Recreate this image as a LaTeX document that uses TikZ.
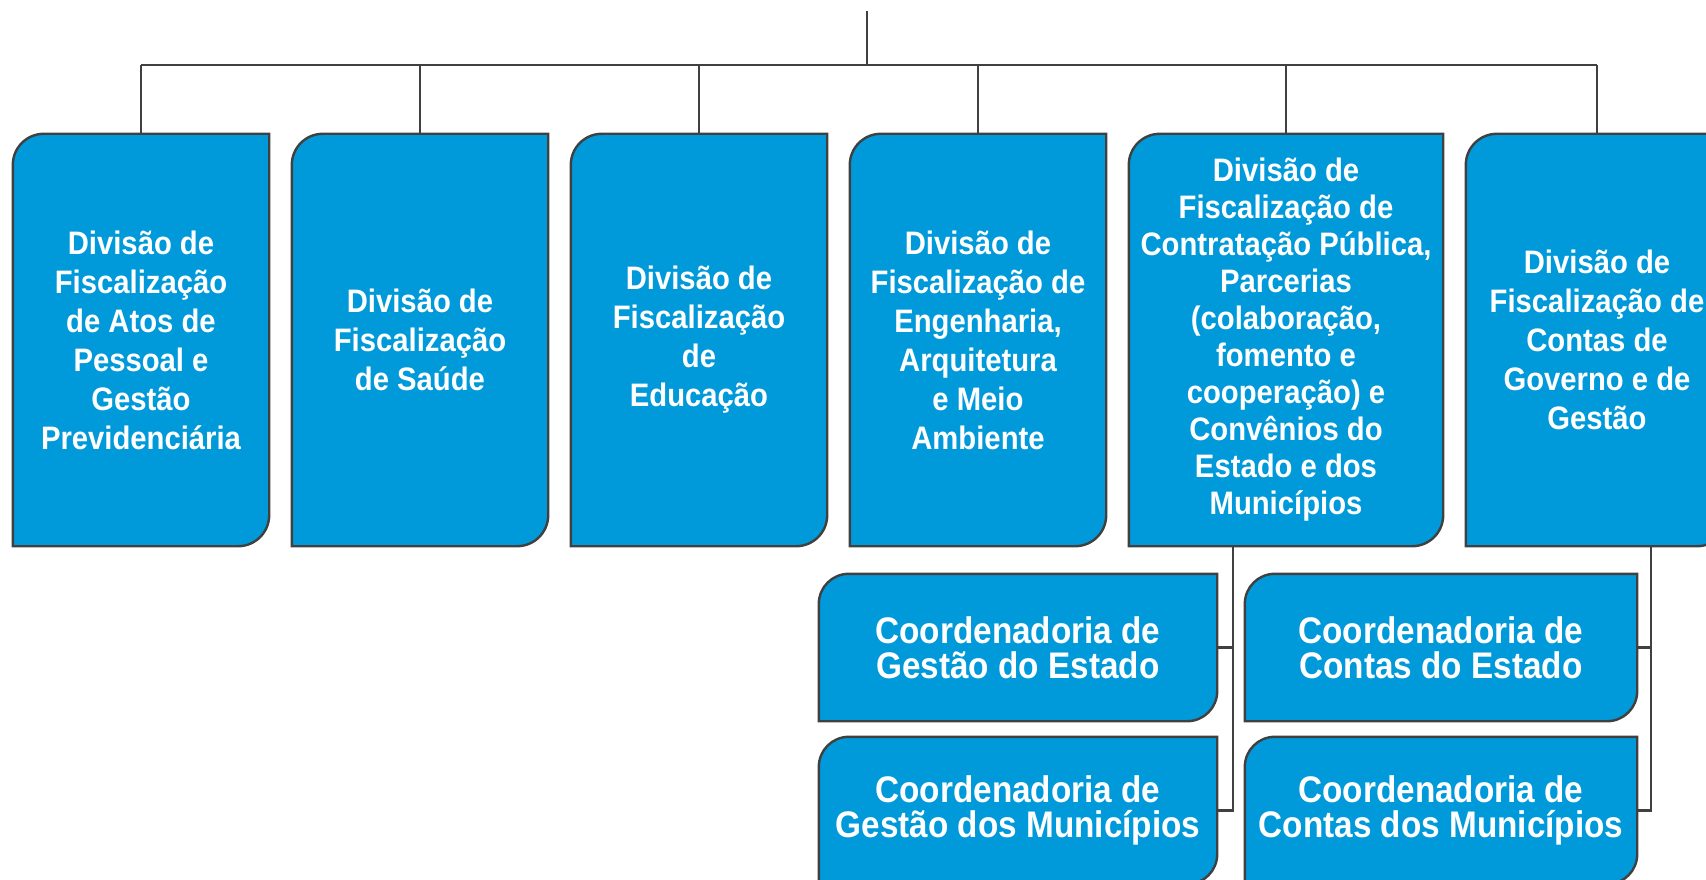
\documentclass[tikz,border=0pt]{standalone}
\usepackage{fontspec}
\newfontfamily\boxfont{Liberation Sans}[FakeStretch=0.9]
\usetikzlibrary{backgrounds}
\definecolor{boxblue}{RGB}{0,153,218}
\definecolor{linegray}{RGB}{64,64,64}
\tikzset{
  ubox/.style={inner sep=0pt, minimum width=256pt, minimum height=412pt, align=center, text=white,
    font=\boxfont\bfseries\fontsize{32.5}{39}\selectfont},
  lbox/.style={inner sep=0pt, minimum width=398pt, minimum height=147pt, align=center, text=white,
    font=\boxfont\bfseries\fontsize{37}{35}\selectfont},
  conn/.style={draw=linegray, line width=2.6pt},
  shapeline/.style={draw=linegray, line width=2.4pt, fill=boxblue}
}
\newcommand{\orgshape}[2][30pt]{%
  \path[shapeline] (#2.south west) -- ([yshift=-#1]#2.north west)
    arc[start angle=180,end angle=90,radius=#1] -- (#2.north east)
    -- ([yshift=#1]#2.south east) arc[start angle=0,end angle=-90,radius=#1] -- cycle;}
\begin{document}
\begin{tikzpicture}[x=1pt,y=-1pt]
\useasboundingbox (0,0) rectangle (1706,880);
% upper row
\node[ubox] (d1) at (141,340) {Divisão de\\Fiscalização\\de Atos de\\Pessoal e\\Gestão\\Previdenciária};
\node[ubox] (d2) at (420,340) {Divisão de\\Fiscalização\\de Saúde};
\node[ubox] (d3) at (699,340) {Divisão de\\Fiscalização\\de\\Educação};
\node[ubox] (d4) at (978,340) {Divisão de\\Fiscalização de\\Engenharia,\\Arquitetura\\e Meio\\Ambiente};
\node[ubox, minimum width=314pt, font=\boxfont\bfseries\fontsize{32.5}{37}\selectfont] (d5) at (1286,340)
  {Divisão de\\Fiscalização de\\Contratação Pública,\\Parcerias\\(colaboração,\\fomento e\\cooperação) e\\Convênios do\\Estado e dos\\Municípios};
\node[ubox, minimum width=262pt] (d6) at (1597,340) {Divisão de\\Fiscalização de\\Contas de\\Governo e de\\Gestão};
% lower boxes
\node[lbox] (c1) at (1018,647.5) {Coordenadoria de\\Gestão do Estado};
\node[lbox] (c2) at (1018,810.5) {Coordenadoria de\\Gestão dos Municípios};
\node[lbox, minimum width=392pt] (c3) at (1441,647.5) {Coordenadoria de\\Contas do Estado};
\node[lbox, minimum width=392pt] (c4) at (1441,810.5) {Coordenadoria de\\Contas dos Municípios};
% coordinates
\coordinate (root) at (867,11);
\coordinate (bus) at (867,65);
\coordinate (v1) at (1233,0);
\coordinate (v2) at (1651,0);
\begin{scope}[on background layer]
  \draw[conn] (root) -- (bus);
  \draw[conn] (d1.north |- bus) -- (d6.north |- bus);
  \foreach \n in {d1,d2,d3,d4,d5,d6} \draw[conn] (\n.north) -- (\n.north |- bus);
  \draw[conn] (d5.south -| v1) |- (c1.east);
  \draw[conn] (d5.south -| v1) |- (c2.east);
  \draw[conn] (d6.south -| v2) |- (c3.east);
  \draw[conn] (d6.south -| v2) |- (c4.east);
  \foreach \n in {d1,d2,d3,d4,d5,d6} \orgshape[31pt]{\n};
  \foreach \n in {c1,c2,c3,c4} \orgshape[30pt]{\n};
\end{scope}
\end{tikzpicture}
\end{document}
